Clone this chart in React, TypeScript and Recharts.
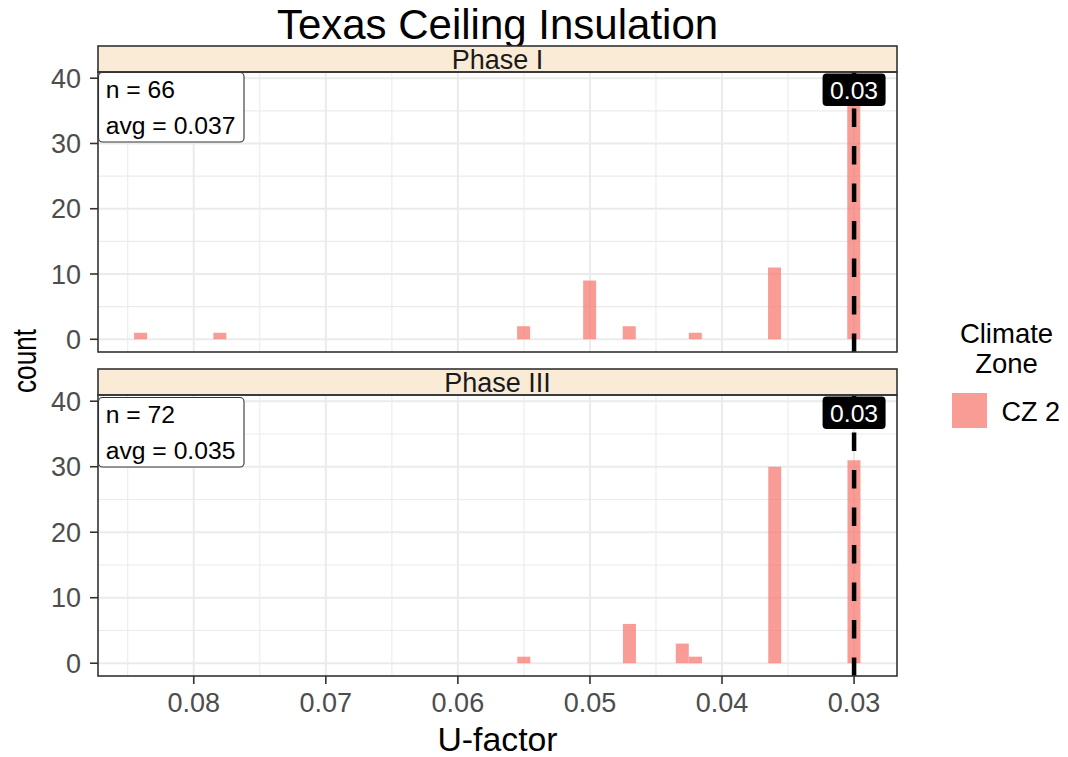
import { ComposedChart, Bar, XAxis, YAxis, CartesianGrid, ReferenceLine, ReferenceDot } from 'recharts'

// U-factor bins (bar centres)
const uFactors = [0.084, 0.078, 0.055, 0.05, 0.047, 0.043, 0.042, 0.036, 0.03]
const phase1Counts = [1, 1, 2, 9, 2, 0, 1, 11, 39]
const phase3Counts = [0, 0, 1, 0, 6, 3, 1, 30, 31]

const phaseNames = ['Phase I', 'Phase III']
const phaseN = [66, 72]
const phaseAvg = ['0.037', '0.035']

const xTicks = [0.08, 0.07, 0.06, 0.05, 0.04, 0.03]
const xMinor = [0.085, 0.075, 0.065, 0.055, 0.045, 0.035]
const yTicks = [0, 10, 20, 30, 40]
const yMinor = [5, 15, 25, 35]

const targetU = 0.03
const targetLabelY = 38.2
const legendTitle = ['Climate', 'Zone']
const legendLabel = 'CZ 2'

const FONT = '"Liberation Sans", Arial, Helvetica, sans-serif'
const BAR_COLOR = '#F8766D'
const X_DOMAIN = [0.02675, 0.08725]
const Y_DOMAIN = [-1.95, 40.95]

const PLOT_LEFT = 98
const PLOT_RIGHT = 897
const PLOT_W = PLOT_RIGHT - PLOT_LEFT
const CENTER_X = (PLOT_LEFT + PLOT_RIGHT) / 2
const PAD = 20 // room above/below the plot so tick labels are not clipped

// layout of the two facets
const layout = [
  { stripTop: 46, top: 72, height: 280, annoTop: 72.5 },
  { stripTop: 369, top: 395, height: 281, annoTop: 397.5 },
]

const seriesFor = (counts: number[]) =>
  uFactors.map((u, i) => ({ u, count: counts[i] })).filter(d => d.count > 0)

const LabelBox = (props: any) => {
  const { cx, cy } = props
  if (cx == null || cy == null) return null
  return (
    <g>
      <rect x={cx - 31.5} y={cy - 16.5} width={63} height={32.5} rx={4} fill="#000" />
      <text x={cx} y={cy + 8.8} textAnchor="middle" fill="#fff" fontSize={24.7} fontFamily={FONT}>
        0.03
      </text>
    </g>
  )
}

const Panel = ({ counts, top, height, showX }: { counts: number[]; top: number; height: number; showX: boolean }) => {
  const data = seriesFor(counts)
  const xAxisH = showX ? 45 : 0
  const bottomPad = showX ? 0 : PAD
  return (
    <div style={{ position: 'absolute', left: 0, top: top - PAD }}>
      <ComposedChart
        width={PLOT_RIGHT + 3}
        height={height + xAxisH + PAD + bottomPad}
        data={data}
        margin={{ top: PAD, right: 3, bottom: bottomPad, left: 0 }}
      >
        <CartesianGrid stroke="#EBEBEB" strokeWidth={1.1} horizontalValues={yMinor} verticalValues={xMinor} />
        <CartesianGrid stroke="#EBEBEB" strokeWidth={2} horizontalValues={yTicks} verticalValues={xTicks} />
        <XAxis
          dataKey="u"
          type="number"
          domain={X_DOMAIN}
          allowDataOverflow
          reversed
          ticks={xTicks}
          hide={!showX}
          height={xAxisH}
          axisLine={false}
          tickSize={8}
          tickMargin={9}
          tickLine={{ stroke: '#333333', strokeWidth: 1.6 }}
          tick={{ fontSize: 27, fill: '#4D4D4D', fontFamily: FONT }}
          tickFormatter={v => Number(v).toFixed(2)}
          interval={0}
        />
        <YAxis
          type="number"
          domain={Y_DOMAIN}
          allowDataOverflow
          ticks={yTicks}
          width={PLOT_LEFT}
          axisLine={false}
          tickSize={8}
          tickMargin={9}
          tickLine={{ stroke: '#333333', strokeWidth: 1.6 }}
          tick={{ fontSize: 27, fill: '#4D4D4D', fontFamily: FONT }}
          interval={0}
        />
        <Bar dataKey="count" fill={BAR_COLOR} fillOpacity={0.72} barSize={13} isAnimationActive={false} />
        <ReferenceLine x={targetU} stroke="#000" strokeWidth={4.5} strokeDasharray="18.5 19" />
        <ReferenceDot x={targetU} y={targetLabelY} shape={LabelBox} />
      </ComposedChart>
    </div>
  )
}

export default function App() {
  const panelCounts = [phase1Counts, phase3Counts]
  return (
    <div style={{ position: 'absolute', left: 0, top: 0, width: 1068, height: 757, background: '#fff', fontFamily: FONT }}>
      {layout.map((l, i) => (
        <Panel key={i} counts={panelCounts[i]} top={l.top} height={l.height} showX={i === layout.length - 1} />
      ))}
      <svg width={1068} height={757} style={{ position: 'absolute', left: 0, top: 0, pointerEvents: 'none' }} fontFamily={FONT}>
        <text x={CENTER_X} y={39} textAnchor="middle" fontSize={42} fill="#000">
          Texas Ceiling Insulation
        </text>
        {layout.map((l, i) => (
          <g key={i}>
            <rect x={PLOT_LEFT} y={l.stripTop} width={PLOT_W} height={l.top - l.stripTop} fill="#FAEBD7" stroke="#333333" strokeWidth={1.6} />
            <text x={CENTER_X} y={l.stripTop + 23} textAnchor="middle" fontSize={27} fill="#1A1A1A">
              {phaseNames[i]}
            </text>
            <rect x={PLOT_LEFT} y={l.top} width={PLOT_W} height={l.height} fill="none" stroke="#333333" strokeWidth={1.6} />
            <rect x={PLOT_LEFT + 0.5} y={l.annoTop} width={145.5} height={69.5} rx={4} fill="#fff" stroke="#333333" strokeWidth={1.1} />
            <text x={105.7} y={l.annoTop + 25.8} fontSize={24.7} fill="#000">
              n = {phaseN[i]}
            </text>
            <text x={105.7} y={l.annoTop + 61.8} fontSize={24.7} fill="#000">
              avg = {phaseAvg[i]}
            </text>
          </g>
        ))}
        <text x={CENTER_X} y={751} textAnchor="middle" fontSize={33.8} fill="#000">
          U-factor
        </text>
        <text
          x={36}
          y={361}
          textAnchor="middle"
          fontSize={34}
          fill="#000"
          textLength={64}
          lengthAdjust="spacingAndGlyphs"
          transform="rotate(-90 36 361)"
        >
          count
        </text>
        <text x={1006.5} y={343} textAnchor="middle" fontSize={27.5} fill="#000">
          {legendTitle[0]}
        </text>
        <text x={1006.5} y={373} textAnchor="middle" fontSize={27.5} fill="#000">
          {legendTitle[1]}
        </text>
        <rect x={952} y={393} width={35} height={35} fill={BAR_COLOR} fillOpacity={0.72} />
        <text x={1001.5} y={420.5} fontSize={27} fill="#000">
          {legendLabel}
        </text>
      </svg>
    </div>
  )
}
